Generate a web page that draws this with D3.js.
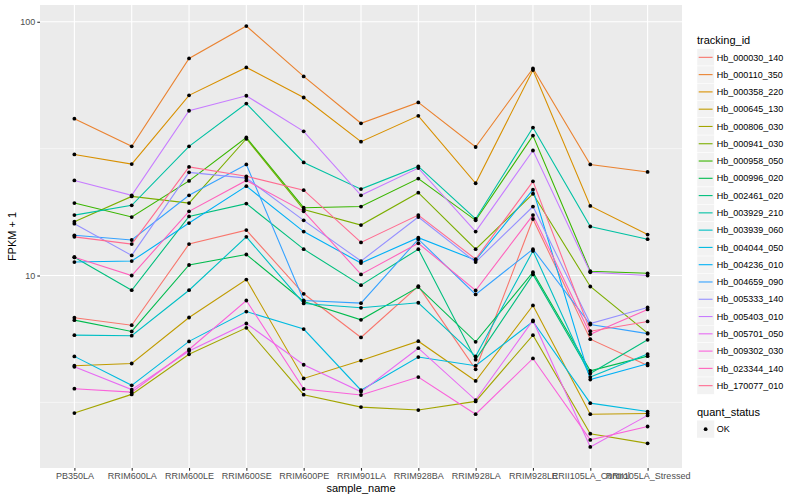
<!DOCTYPE html>
<html>
<head>
<meta charset="utf-8">
<script src="https://cdn.jsdelivr.net/npm/d3@7"></script>
<style>
  body { margin: 0; background: #fff; }
  svg { font-family: "Liberation Sans", Arial, sans-serif; }
</style>
</head>
<body>
<svg id="chart"></svg>
<script>
// sample names on the x axis
const samples = ['PB350LA', 'RRIM600LA', 'RRIM600LE', 'RRIM600SE', 'RRIM600PE', 'RRIM901LA',
    'RRIM928BA', 'RRIM928LA', 'RRIM928LE', 'RRII105LA_Control', 'RRII105LA_Stressed'];

const trackingIds = ['Hb_000030_140', 'Hb_000110_350', 'Hb_000358_220', 'Hb_000645_130', 'Hb_000806_030',
    'Hb_000941_030', 'Hb_000958_050', 'Hb_000996_020', 'Hb_002461_020', 'Hb_003929_210',
    'Hb_003939_060', 'Hb_004044_050', 'Hb_004236_010', 'Hb_004659_090', 'Hb_005333_140',
    'Hb_005403_010', 'Hb_005701_050', 'Hb_009302_030', 'Hb_023344_140', 'Hb_170077_010'];

// FPKM + 1, one value per sample
const hb000030 = [6.82, 6.37, 13.3, 15.1, 8.47, 5.70, 9.08, 4.27, 16.7, 5.61, 4.42];
const hb000110 = [41.5, 32.3, 71.7, 96.2, 60.9, 39.8, 48.1, 32.1, 65.5, 27.4, 25.6];
const hb000358 = [30.0, 27.5, 51.3, 66.1, 50.3, 33.7, 42.6, 23.1, 64.5, 18.8, 14.5];
const hb000645 = [4.41, 4.50, 6.83, 9.64, 3.93, 4.62, 5.51, 3.84, 7.62, 2.84, 2.86];
const hb000806 = [2.87, 3.40, 4.89, 6.22, 3.39, 3.03, 2.95, 3.19, 5.82, 2.38, 2.18];
const hb000941 = [16.3, 20.5, 19.3, 34.6, 18.2, 15.8, 21.2, 12.7, 21.0, 9.05, 5.93];
const hb000958 = [19.3, 17.0, 23.6, 35.0, 18.5, 18.7, 24.1, 16.5, 35.6, 10.4, 10.2];
const hb000996 = [6.67, 6.02, 11.0, 12.1, 7.90, 6.69, 9.00, 5.48, 10.3, 4.21, 4.81];
const hb002461 = [11.8, 8.75, 17.1, 19.2, 12.7, 9.16, 12.7, 4.66, 10.1, 4.11, 5.58];
const hb003929 = [17.3, 18.9, 32.3, 47.6, 27.9, 21.9, 26.9, 16.7, 38.3, 15.6, 13.9];
const hb003939 = [5.82, 5.79, 8.75, 14.2, 7.76, 7.46, 7.81, 4.80, 12.5, 3.98, 4.90];
const hb004044 = [4.80, 3.69, 5.50, 7.21, 6.15, 3.53, 4.77, 4.41, 6.59, 3.14, 2.91];
const hb004236 = [11.3, 11.4, 16.1, 22.5, 14.9, 11.2, 14.1, 11.5, 21.8, 3.89, 4.49];
const hb004659 = [14.4, 13.8, 20.7, 27.4, 7.97, 7.78, 13.9, 8.42, 12.7, 6.41, 5.90];
const hb005333 = [16.0, 12.0, 25.5, 24.2, 16.5, 11.4, 17.0, 11.3, 18.7, 6.47, 7.48];
const hb005403 = [23.7, 20.7, 44.6, 51.1, 37.0, 20.7, 26.5, 14.9, 31.1, 10.3, 10.0];
const hb005701 = [4.37, 3.55, 5.04, 6.47, 4.45, 3.48, 5.17, 3.23, 6.65, 2.11, 2.81];
const hb009302 = [3.58, 3.47, 5.11, 7.97, 3.57, 3.38, 3.98, 2.84, 4.71, 2.25, 2.54];
const hb023344 = [11.8, 10.0, 17.9, 23.7, 17.9, 10.1, 13.4, 8.73, 17.3, 5.87, 7.35];
const hb170077 = [14.2, 13.3, 26.8, 24.6, 21.7, 13.5, 17.3, 11.6, 23.5, 6.03, 6.59];

const seriesValues = [hb000030, hb000110, hb000358, hb000645, hb000806, hb000941, hb000958,
    hb000996, hb002461, hb003929, hb003939, hb004044, hb004236, hb004659, hb005333,
    hb005403, hb005701, hb009302, hb023344, hb170077];

// ggplot2 default hue palette for 20 levels
const hueColors = ['#F8766D', '#EA8331', '#D89000', '#C09B00', '#A3A500', '#7CAE00', '#39B600',
    '#00BB4E', '#00BF7D', '#00C1A3', '#00BFC4', '#00BAE0', '#00B0F6', '#35A2FF', '#9590FF',
    '#C77CFF', '#E76BF3', '#FA62DB', '#FF62BC', '#FF6C91'];

const yMajorTicks = [10, 100];
const yMinorTicks = [Math.sqrt(10), Math.sqrt(1000)];

const width = 800, height = 500;
const margin = {left: 40, right: 118, top: 5, bottom: 32};

let svg = d3.select('#chart').attr('width', width).attr('height', height);

let series = trackingIds.map((id, i) => ({
    id: id,
    color: hueColors[i],
    points: samples.map((s, j) => ({sample: s, value: seriesValues[i][j]}))
}));

let allValues = seriesValues.flat();
let lMin = Math.log10(d3.min(allValues)), lMax = Math.log10(d3.max(allValues));
let pad = (lMax - lMin) * 0.05;

let xScale = d3.scalePoint()
    .domain(samples)
    .range([margin.left, width - margin.right])
    .padding(0.6);

let yScale = d3.scaleLog()
    .domain([Math.pow(10, lMin - pad), Math.pow(10, lMax + pad)])
    .range([height - margin.bottom, margin.top]);

// panel background and grid
svg.append('rect')
    .attr('x', margin.left).attr('y', margin.top)
    .attr('width', width - margin.right - margin.left)
    .attr('height', height - margin.bottom - margin.top)
    .attr('fill', '#EBEBEB');

let grid = svg.append('g');
grid.selectAll('.minor').data(yMinorTicks).enter().append('line')
    .attr('x1', margin.left).attr('x2', width - margin.right)
    .attr('y1', d => yScale(d)).attr('y2', d => yScale(d))
    .attr('stroke', '#fff').attr('stroke-width', 0.55);
grid.selectAll('.major').data(yMajorTicks).enter().append('line')
    .attr('x1', margin.left).attr('x2', width - margin.right)
    .attr('y1', d => yScale(d)).attr('y2', d => yScale(d))
    .attr('stroke', '#fff').attr('stroke-width', 1.1);
grid.selectAll('.vmajor').data(samples).enter().append('line')
    .attr('x1', d => xScale(d)).attr('x2', d => xScale(d))
    .attr('y1', margin.top).attr('y2', height - margin.bottom)
    .attr('stroke', '#fff').attr('stroke-width', 1.1);

// lines then points
let lineGen = d3.line()
    .x(d => xScale(d.sample))
    .y(d => yScale(d.value));

svg.append('g').selectAll('path').data(series).enter().append('path')
    .attr('d', d => lineGen(d.points))
    .attr('stroke', d => d.color)
    .attr('stroke-width', 1.1)
    .attr('fill', 'none');

svg.append('g').selectAll('circle').data(series.flatMap(d => d.points)).enter().append('circle')
    .attr('cx', d => xScale(d.sample))
    .attr('cy', d => yScale(d.value))
    .attr('r', 1.9)
    .attr('fill', '#000');

// axes
let xAxis = d3.axisBottom(xScale).tickSize(2.7).tickPadding(2),
    yAxis = d3.axisLeft(yScale).tickValues(yMajorTicks).tickFormat(d3.format('d')).tickSize(2.7).tickPadding(2);

let gx = svg.append('g')
    .attr('transform', `translate(0, ${height - margin.bottom})`)
    .call(xAxis);
let gy = svg.append('g')
    .attr('transform', `translate(${margin.left}, 0)`)
    .call(yAxis);
[gx, gy].forEach(g => {
    g.select('.domain').remove();
    g.selectAll('.tick line').attr('stroke', '#333').attr('stroke-width', 1.1);
    g.selectAll('.tick text').attr('fill', '#4D4D4D').style('font-size', '9px')
        .style('font-family', '"Liberation Sans", Arial, sans-serif');
});

svg.append('text')
    .attr('x', (margin.left + width - margin.right) / 2)
    .attr('y', 492)
    .attr('text-anchor', 'middle')
    .style('font-size', '11px')
    .text('sample_name');

svg.append('text')
    .attr('transform', `translate(16, ${(margin.top + height - margin.bottom) / 2}) rotate(-90)`)
    .attr('text-anchor', 'middle')
    .style('font-size', '11px')
    .text('FPKM + 1');

// legend: tracking_id
let keySize = 17.28, legendX = 697, legendTop = 48.7;
let legend = svg.append('g');
legend.append('text')
    .attr('x', legendX).attr('y', 44)
    .style('font-size', '11px')
    .text('tracking_id');

let items = legend.selectAll('.item').data(series).enter().append('g')
    .attr('transform', (d, i) => `translate(${legendX}, ${legendTop + i * keySize})`);
items.append('rect')
    .attr('width', keySize).attr('height', keySize)
    .attr('fill', '#F2F2F2')
    .attr('stroke', '#fff').attr('stroke-width', 0.5);
items.append('line')
    .attr('x1', 1.7).attr('x2', keySize - 1.7)
    .attr('y1', keySize / 2).attr('y2', keySize / 2)
    .attr('stroke', d => d.color).attr('stroke-width', 1.1);
items.append('text')
    .attr('x', keySize + 2.5).attr('y', keySize / 2 + 3.2)
    .style('font-size', '9px')
    .text(d => d.id);

// legend: quant_status
let statusTop = 420.5;
legend.append('text')
    .attr('x', legendX).attr('y', 416)
    .style('font-size', '11px')
    .text('quant_status');
let okItem = legend.append('g').attr('transform', `translate(${legendX}, ${statusTop})`);
okItem.append('rect')
    .attr('width', keySize).attr('height', keySize)
    .attr('fill', '#F2F2F2');
okItem.append('circle')
    .attr('cx', keySize / 2).attr('cy', keySize / 2).attr('r', 1.9)
    .attr('fill', '#000');
okItem.append('text')
    .attr('x', keySize + 2.5).attr('y', keySize / 2 + 3.2)
    .style('font-size', '9px')
    .text('OK');
</script>
</body>
</html>
